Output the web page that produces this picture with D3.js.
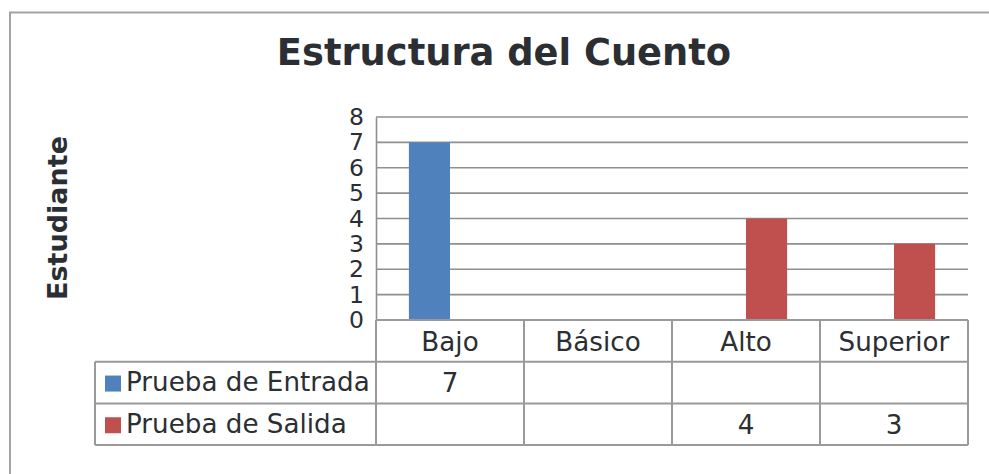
<!DOCTYPE html>
<html>
<head>
<meta charset="utf-8">
<script src="https://cdn.jsdelivr.net/npm/d3@7"></script>
<style>
  body { margin: 0; background: #fff; }
  svg { display: block; font-family: "DejaVu Sans", sans-serif; }
</style>
</head>
<body>
<div id="chart"></div>
<script>
// data
const categories = ["Bajo", "Básico", "Alto", "Superior"];
const seriesNames = ["Prueba de Entrada", "Prueba de Salida"];
const entradaValues = [7, null, null, null];
const salidaValues = [null, null, 4, 3];
const yTickValues = [0, 1, 2, 3, 4, 5, 6, 7, 8];
const seriesColors = ["#4f81bd", "#c0504d"];

const series = [
    {name: seriesNames[0], values: entradaValues},
    {name: seriesNames[1], values: salidaValues}
];

const width = 989, height = 474;
const textColor = "#2b2f33";
const lineColor = "#9a9a9a";

// plot box
const plot = {left: 376, right: 968, top: 117, bottom: 320};
const rowH = 41.7;
const tableLeft = 95;
const tableFont = 26.2;

const svg = d3.select("#chart")
    .append("svg")
    .attr("width", width)
    .attr("height", height);

// outer frame (runs off right and bottom)
svg.append("rect")
    .attr("x", 10).attr("y", 12.5)
    .attr("width", 1000).attr("height", 500)
    .attr("fill", "none")
    .attr("stroke", "#a3a3a3")
    .attr("stroke-width", 2);

// title
svg.append("text")
    .attr("x", 504).attr("y", 65)
    .attr("text-anchor", "middle")
    .attr("font-size", 36.8)
    .attr("font-weight", "bold")
    .attr("fill", textColor)
    .text("Estructura del Cuento");

// y axis title
svg.append("text")
    .attr("transform", "translate(67,218) rotate(-90)")
    .attr("text-anchor", "middle")
    .attr("font-size", 27)
    .attr("font-weight", "bold")
    .attr("fill", textColor)
    .text("Estudiante");

// scales
const x = d3.scaleBand()
    .domain(categories)
    .range([plot.left, plot.right])
    .padding(0);

const xSub = d3.scaleBand()
    .domain(seriesNames)
    .range([0, x.bandwidth()])
    .paddingInner(0)
    .paddingOuter(0.8);

const y = d3.scaleLinear()
    .domain([0, 8])
    .range([plot.bottom, plot.top]);

// gridlines
svg.append("g")
    .selectAll("line")
    .data(yTickValues.filter(d => d > 0))
    .join("line")
    .attr("x1", plot.left).attr("x2", plot.right)
    .attr("y1", d => y(d)).attr("y2", d => y(d))
    .attr("stroke", "#8f8f8f")
    .attr("stroke-width", 1.6);

// y axis
const yAxis = d3.axisLeft(y)
    .tickValues(yTickValues)
    .tickSize(0)
    .tickPadding(12)
    .tickFormat(d3.format("d"));

const yG = svg.append("g")
    .attr("transform", `translate(${plot.left},0)`)
    .call(yAxis);
yG.select(".domain").attr("stroke", "#8f8f8f").attr("stroke-width", 1.6);
yG.selectAll("text")
    .attr("font-size", 23.5)
    .attr("font-family", "DejaVu Sans")
    .attr("fill", textColor);

// bars
const groups = svg.append("g")
    .selectAll("g")
    .data(series)
    .join("g")
    .attr("fill", (d, i) => seriesColors[i]);

groups.selectAll("rect")
    .data(s => s.values.map((v, i) => ({name: s.name, cat: categories[i], value: v}))
        .filter(d => d.value != null))
    .join("rect")
    .attr("x", d => x(d.cat) + xSub(d.name))
    .attr("width", xSub.bandwidth())
    .attr("y", d => y(d.value))
    .attr("height", d => y(0) - y(d.value));

// data table
const table = svg.append("g");
const rowTop = i => plot.bottom + rowH * (i + 1);
const tableBottom = plot.bottom + rowH * 3;

// horizontal lines
table.append("line")
    .attr("x1", plot.left).attr("x2", plot.right)
    .attr("y1", plot.bottom).attr("y2", plot.bottom);
series.forEach((s, i) => {
    table.append("line")
        .attr("x1", tableLeft).attr("x2", plot.right)
        .attr("y1", rowTop(i)).attr("y2", rowTop(i));
});
table.append("line")
    .attr("x1", tableLeft).attr("x2", plot.right)
    .attr("y1", tableBottom).attr("y2", tableBottom);

// vertical lines
table.append("line")
    .attr("x1", tableLeft).attr("x2", tableLeft)
    .attr("y1", rowTop(0)).attr("y2", tableBottom);
categories.forEach(c => {
    table.append("line")
        .attr("x1", x(c)).attr("x2", x(c))
        .attr("y1", plot.bottom).attr("y2", tableBottom);
});
table.append("line")
    .attr("x1", plot.right).attr("x2", plot.right)
    .attr("y1", plot.bottom).attr("y2", tableBottom);

table.selectAll("line")
    .attr("stroke", lineColor)
    .attr("stroke-width", 2);

// category header
table.selectAll(".cat")
    .data(categories)
    .join("text")
    .attr("class", "cat")
    .attr("x", d => x(d) + x.bandwidth() / 2)
    .attr("y", plot.bottom + rowH / 2 + 10.5)
    .attr("text-anchor", "middle")
    .attr("font-size", tableFont)
    .attr("fill", textColor)
    .text(d => d);

// series rows
series.forEach((s, i) => {
    const mid = rowTop(i) + rowH / 2;
    table.append("rect")
        .attr("x", 105).attr("y", mid - 8 + 1)
        .attr("width", 16).attr("height", 16)
        .attr("fill", seriesColors[i]);
    table.append("text")
        .attr("x", 126).attr("y", mid + 8.5)
        .attr("font-size", tableFont)
        .attr("fill", textColor)
        .text(s.name);
    table.selectAll(".v" + i)
        .data(s.values.map((v, j) => ({cat: categories[j], value: v})).filter(d => d.value != null))
        .join("text")
        .attr("x", d => x(d.cat) + x.bandwidth() / 2)
        .attr("y", mid + 9.5)
        .attr("text-anchor", "middle")
        .attr("font-size", tableFont)
        .attr("fill", textColor)
        .text(d => d.value);
});
</script>
</body>
</html>
